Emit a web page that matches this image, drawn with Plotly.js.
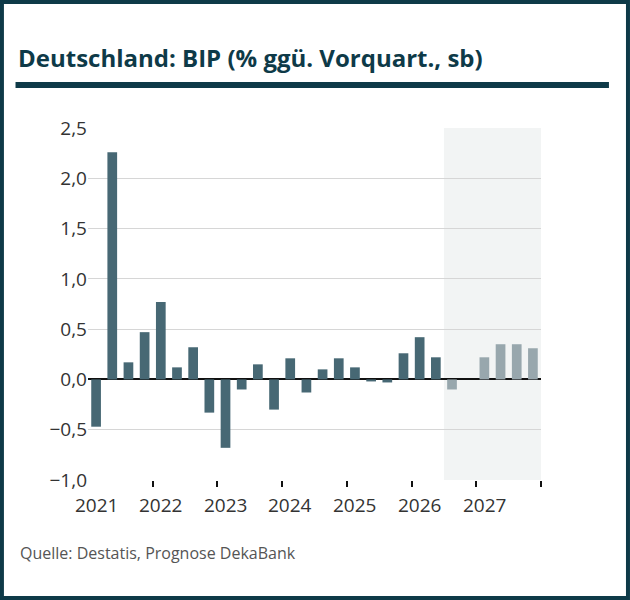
<!DOCTYPE html>
<html><head><meta charset="utf-8">
<script src="https://cdn.plot.ly/plotly-3.0.1.min.js"></script>
<style>body{margin:0}#c{width:630px;height:600px}</style>
</head><body><div id="c"></div>
<script>
const years = ['2021','2022','2023','2024','2025','2026','2027'];
const actual = [-0.47,2.26,0.17,0.47, 0.77,0.12,0.32,-0.33, -0.68,-0.10,0.15,-0.30, 0.21,-0.13,0.10,0.21, 0.12,-0.02,-0.03,0.26, 0.42,0.22];
const forecast = [-0.10,0.00, 0.22,0.35,0.35,0.31];
const dark = '#0e3a48';

const xa = actual.map((v,i)=>i);
const xf = forecast.map((v,i)=>i+actual.length);
const traces = [
  {type:'bar', x:xa, y:actual, marker:{color:'#476874'}, width:0.6, hoverinfo:'y'},
  {type:'bar', x:xf, y:forecast, marker:{color:'#98a7ad'}, width:0.6, hoverinfo:'y'}
];
const annotations = years.map((y,i)=>({x:i*4, y:-1.0, yref:'y', xref:'x', text:y, showarrow:false, yanchor:'top', yshift:-10, font:{size:19, color:'#333'}}));
annotations.push({xref:'paper', yref:'paper', x:-0.155, y:-0.207, xanchor:'left', yanchor:'middle', text:'Quelle: Destatis, Prognose DekaBank', showarrow:false, font:{size:16, color:'#555'}});
annotations.push({xref:'paper', yref:'paper', x:-0.16, y:1.199, xanchor:'left', yanchor:'middle', text:'<b>Deutschland: BIP (% ggü. Vorquart., sb)</b>', showarrow:false, font:{size:24, color:dark}});
const layout = {
  width:630, height:600, margin:{l:88, r:89, t:128, b:120},
  paper_bgcolor:'white', plot_bgcolor:'white', showlegend:false, bargap:0.4,
  font:{family:'Open Sans, Liberation Sans, sans-serif'},
  xaxis:{range:[-0.5,27.5], tickvals:[3.5,7.5,11.5,15.5,19.5,23.5,27.5], ticktext:['','','','','','',''], ticks:'outside', ticklen:6, tickcolor:'#111', tickwidth:2, showgrid:false, zeroline:false, showline:false, fixedrange:true},
  yaxis:{range:[-1.0,2.5], dtick:0.5, tickformat:'.1f', gridcolor:'#d6d6d6', zeroline:true, zerolinecolor:'#111', zerolinewidth:2, tickfont:{size:19, color:'#333'}, ticks:'', showline:false},
  separators:',.',
  annotations,
  shapes:[
    {type:'rect', xref:'x', yref:'paper', x0:21.5, x1:27.5, y0:0, y1:1, fillcolor:'#f2f4f4', line:{width:0}, layer:'below'},
    {type:'line', xref:'paper', yref:'paper', x0:-0.16, x1:1.15, y0:1.122, y1:1.122, line:{color:dark, width:6}},
    {type:'rect', xref:'paper', yref:'paper', x0:-0.19, x1:1.192, y0:-0.335, y1:1.358, line:{color:dark, width:4}}
  ]
};
Plotly.newPlot('c', traces, layout, {displayModeBar:false, staticPlot:true});
</script></body></html>
